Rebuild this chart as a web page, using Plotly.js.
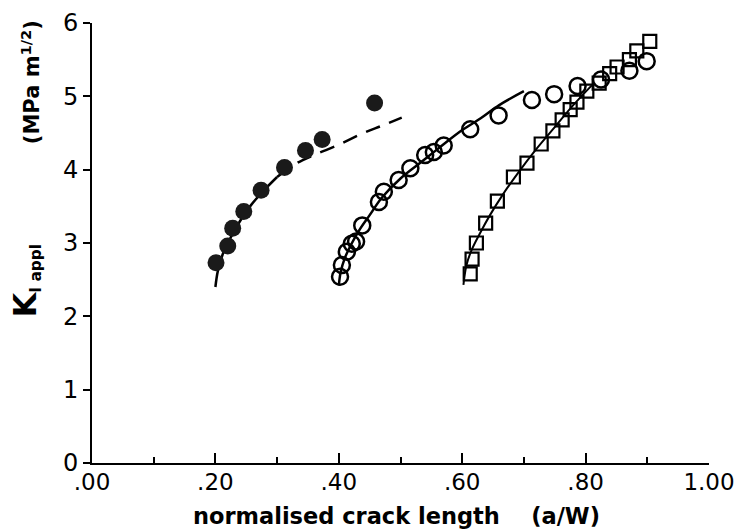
<!DOCTYPE html>
<html>
<head>
<meta charset="utf-8">
<script src="https://cdn.plot.ly/plotly-3.0.1.min.js"></script>
<style>html,body{margin:0;padding:0;background:#fff;}#chart{width:741px;height:532px;}</style>
</head>
<body>
<div id="chart"></div>
<script>
// Filled circles
const filledX = [0.201, 0.220, 0.228, 0.246, 0.274, 0.312, 0.346, 0.373, 0.458];
const filledY = [2.73, 2.96, 3.20, 3.43, 3.72, 4.03, 4.26, 4.41, 4.91];
// Fit curve for filled circles (solid part, then dashed part)
const filledSolidX = [0.200, 0.204, 0.212, 0.225, 0.240, 0.258, 0.280, 0.300];
const filledSolidY = [2.40, 2.62, 2.85, 3.08, 3.30, 3.52, 3.73, 3.90];
const filledDashX = [0.300, 0.330, 0.360, 0.400, 0.440, 0.470, 0.502];
const filledDashY = [3.90, 4.08, 4.20, 4.34, 4.50, 4.60, 4.71];
// Open circles
const openX = [0.402, 0.405, 0.413, 0.421, 0.428, 0.438, 0.465, 0.473, 0.497, 0.516, 0.540, 0.554, 0.570, 0.613, 0.659, 0.713, 0.749, 0.787, 0.825, 0.871, 0.899];
const openY = [2.54, 2.70, 2.88, 2.99, 3.02, 3.24, 3.56, 3.70, 3.86, 4.02, 4.20, 4.24, 4.33, 4.55, 4.74, 4.95, 5.03, 5.14, 5.23, 5.35, 5.48];
const openLineX = [0.400, 0.403, 0.410, 0.420, 0.435, 0.450, 0.470, 0.500, 0.530, 0.560, 0.600, 0.630, 0.660, 0.700];
const openLineY = [2.42, 2.60, 2.80, 2.98, 3.20, 3.38, 3.62, 3.88, 4.08, 4.28, 4.54, 4.70, 4.88, 5.07];
// Open squares
const squareX = [0.613, 0.616, 0.623, 0.638, 0.657, 0.683, 0.705, 0.728, 0.747, 0.762, 0.775, 0.786, 0.802, 0.822, 0.839, 0.851, 0.871, 0.883, 0.904];
const squareY = [2.58, 2.78, 3.00, 3.27, 3.57, 3.90, 4.09, 4.35, 4.53, 4.68, 4.82, 4.92, 5.07, 5.18, 5.31, 5.40, 5.50, 5.62, 5.75];
const squareLineX = [0.602, 0.607, 0.615, 0.628, 0.645, 0.665, 0.690, 0.720, 0.750, 0.780, 0.810];
const squareLineY = [2.43, 2.70, 2.90, 3.12, 3.38, 3.65, 3.95, 4.28, 4.58, 4.88, 5.15];
// Axis ticks
const xTickVals = [0, 0.2, 0.4, 0.6, 0.8, 1.0];
const xTickText = ['.00', '.20', '.40', '.60', '.80', '1.00'];
const yTickVals = [0, 1, 2, 3, 4, 5, 6];
const yTickText = ['0', '1', '2', '3', '4', '5', '6'];

const FONT = 'DejaVu Sans, Liberation Sans, sans-serif';
const traces = [
  {x: filledSolidX, y: filledSolidY, mode: 'lines', line: {color: '#000', width: 2.5, shape: 'spline'}},
  {x: filledDashX, y: filledDashY, mode: 'lines', line: {color: '#000', width: 2.5, shape: 'spline', dash: '15px,10px'}},
  {x: openLineX, y: openLineY, mode: 'lines', line: {color: '#000', width: 2.5, shape: 'spline'}},
  {x: squareLineX, y: squareLineY, mode: 'lines', line: {color: '#000', width: 2, shape: 'spline'}},
  {x: filledX, y: filledY, mode: 'markers', marker: {symbol: 'circle', size: 17, color: '#1a1a1a', line: {width: 0}}},
  {x: openX, y: openY, mode: 'markers', marker: {symbol: 'circle-open', size: 16, color: '#000', line: {width: 2.5, color: '#000'}}},
  {x: squareX, y: squareY, mode: 'markers', marker: {symbol: 'square-open', size: 13, color: '#000', line: {width: 2.2, color: '#000'}}}
];

const layout = {
  width: 741, height: 532,
  margin: {l: 92, r: 32, t: 23, b: 69, pad: 0},
  paper_bgcolor: '#fff', plot_bgcolor: '#fff',
  showlegend: false,
  font: {family: FONT, color: '#000', size: 22},
  xaxis: {
    range: [0, 1], showgrid: false, zeroline: false,
    showline: true, linecolor: '#000', linewidth: 2,
    ticks: 'inside', ticklen: 10, tickwidth: 2, tickcolor: '#000',
    tickvals: xTickVals, ticktext: xTickText,
    tickfont: {family: FONT, size: 23, color: '#000'},
    ticklabelstandoff: -3,
    minor: {dtick: 0.1, ticks: 'inside', ticklen: 6, tickwidth: 2, tickcolor: '#000', showgrid: false},
    fixedrange: true
  },
  yaxis: {
    range: [0, 6], showgrid: false, zeroline: false,
    showline: true, linecolor: '#000', linewidth: 2,
    ticks: 'outside', ticklen: 7, tickwidth: 2, tickcolor: '#000',
    tickvals: yTickVals, ticktext: yTickText,
    tickfont: {family: FONT, size: 24, color: '#000'},
    fixedrange: true
  },
  annotations: [
    {xref: 'paper', yref: 'paper', x: 0.493, y: -0.12, xanchor: 'center', yanchor: 'middle', showarrow: false,
     text: 'normalised crack length&nbsp;&nbsp;&nbsp;&nbsp;(a/W)', font: {family: FONT, size: 22.5, color: '#000', weight: 'bold'}},
    {xref: 'paper', yref: 'paper', x: -0.108, y: (463 - 280) / 440.3, xanchor: 'center', yanchor: 'middle', showarrow: false, textangle: -90,
     text: "<span style='font-size:32px'>K</span><sub>I appl</sub>", font: {family: FONT, size: 22, color: '#000', weight: 'bold'}},
    {xref: 'paper', yref: 'paper', x: -0.099, y: (463 - 82) / 440.3, xanchor: 'center', yanchor: 'middle', showarrow: false, textangle: -90,
     text: "(MPa m<sup>1/2</sup>)", font: {family: FONT, size: 21, color: '#000', weight: 'bold'}}
  ]
};

Plotly.newPlot('chart', traces, layout, {displayModeBar: false, staticPlot: true});
</script>
</body>
</html>
